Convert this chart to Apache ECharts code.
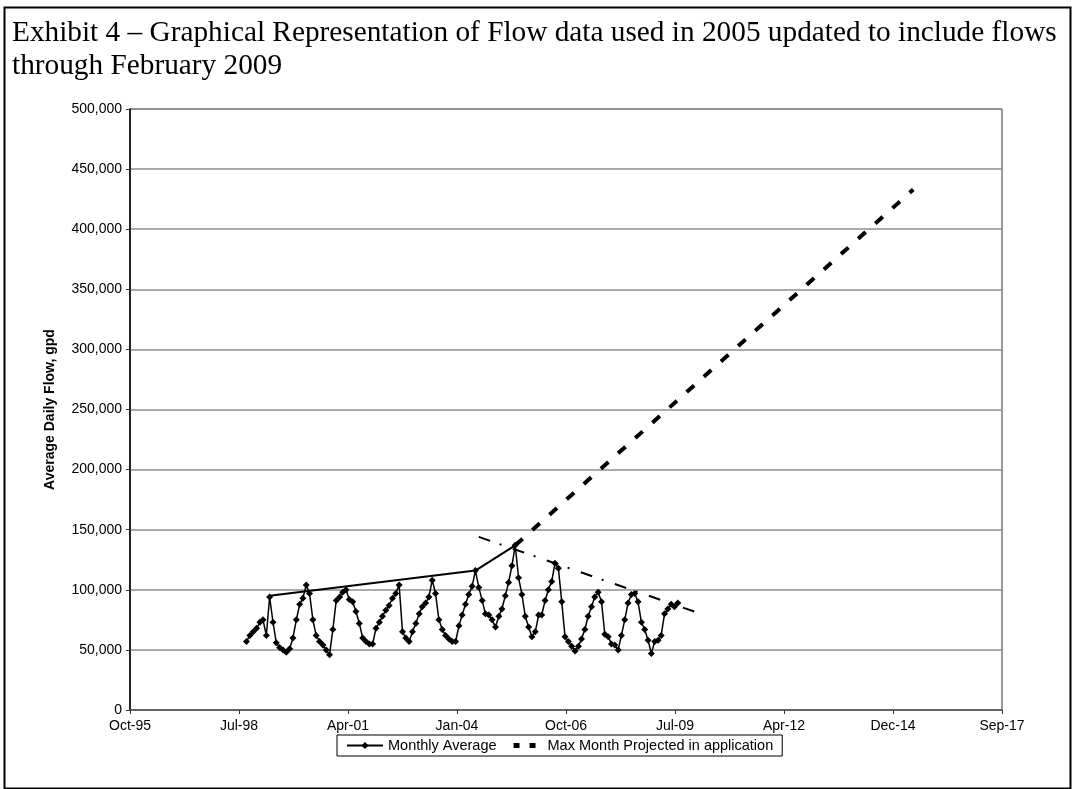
<!DOCTYPE html>
<html>
<head>
<meta charset="utf-8">
<script src="https://cdn.jsdelivr.net/npm/echarts@6/dist/echarts.min.js"></script>
<style>
html,body{margin:0;padding:0;background:#fff;}
#chart{width:1072px;height:789px;}
</style>
</head>
<body>
<div id="chart"></div>
<script>
// ---- data (values in thousands of gpd) ----
const titleText = 'Exhibit 4 \u2013 Graphical Representation of Flow data used in 2005 updated to include flows\nthrough February 2009';
const yAxisName = 'Average Daily Flow, gpd';
const seriesNames = ['Monthly Average', 'Max Month Projected in application'];

const monthlyStart = '1998-10';
const monthlyAverage = [
  57, 62, 65,                                         // 1998 Oct-Dec
  68, 73, 75, 62, 94, 73, 56, 52, 50, 48, 51, 60,     // 1999
  75, 88, 93, 104, 97, 75, 62, 57, 54, 50, 46, 67,    // 2000
  91, 94, 98, 100, 92, 90, 82, 72, 60, 57, 55, 55,    // 2001
  68, 73, 78, 83, 87, 93, 97, 104, 65, 60, 57, 65,    // 2002
  72, 80, 86, 89, 94, 108, 97, 75, 67, 62, 59, 57,    // 2003
  57, 70, 79, 88, 96, 103, 116, 102, 91, 80, 79, 75,  // 2004
  69, 78, 84, 95, 106, 120, 137, 110, 96, 78, 69, 61, // 2005
  65, 79, 79, 91, 100, 107, 122, 118, 90, 61, 57, 53, // 2006
  49, 53, 59, 67, 78, 86, 94, 98, 90, 63, 61, 55,     // 2007
  54, 50, 62, 75, 89, 96, 97, 90, 73, 67, 58, 47,     // 2008
  57, 58, 62, 80, 84, 88, 86, 89                      // 2009 Jan-Aug
];

// upper solid envelope joining peaks
const envelopeDates = ['1999-05', '2004-07', '2005-07'];
const envelopeValues = [95, 116, 137];

// projected max month (dashed)
const projectedDates = ['2005-07', '2015-07'];
const projectedValues = [137, 433];

// dash-dot trend line
const trendDates = ['2004-08', '2010-03'];
const trendValues = [144, 80];

const yTicks = {min: 0, max: 500000, interval: 50000};
const xTicks = {min: 35000, max: 43000, interval: 1000}; // Excel day serials

// ---- helpers ----
const EPOCH = Date.UTC(1899, 11, 30);
function serialOf(ym) {
  const [y, m] = ym.split('-').map(Number);
  return (Date.UTC(y, m - 1, 1) - EPOCH) / 86400000;
}
function addMonths(ym, k) {
  let [y, m] = ym.split('-').map(Number);
  let t = (m - 1) + k;
  y += Math.floor(t / 12); m = (t % 12) + 1;
  return y + '-' + String(m).padStart(2, '0');
}
const MON = ['Jan','Feb','Mar','Apr','May','Jun','Jul','Aug','Sep','Oct','Nov','Dec'];
function fmtSerial(v) {
  const d = new Date(EPOCH + v * 86400000);
  return MON[d.getUTCMonth()] + '-' + String(d.getUTCFullYear() % 100).padStart(2, '0');
}
function pairs(dates, vals) { return dates.map((d, i) => [serialOf(d), vals[i] * 1000]); }

const monthlyData = monthlyAverage.map((v, i) => [serialOf(addMonths(monthlyStart, i)), v * 1000]);

const squaresIcon = 'image://data:image/svg+xml;utf8,' + encodeURIComponent(
  '<svg xmlns="http://www.w3.org/2000/svg" width="36" height="9" viewBox="0 0 36 9">' +
  '<rect x="7" y="2" width="6" height="5" fill="#000"/><rect x="23" y="2" width="6" height="5" fill="#000"/></svg>');

const chart = echarts.init(document.getElementById('chart'), null, {renderer: 'canvas'});
const sans = 'Liberation Sans, Arial, sans-serif';
chart.setOption({
  backgroundColor: '#fff',
  animation: false,
  title: {
    text: titleText,
    left: 7, top: 12,
    textStyle: {fontFamily: 'Liberation Serif, Times New Roman, serif', fontSize: 29.3, fontWeight: 'normal', color: '#000', lineHeight: 33}
  },
  graphic: [{
    type: 'rect', left: 2, top: 5, silent: true,
    shape: {width: 1066, height: 781},
    style: {fill: 'none', stroke: '#000', lineWidth: 2}
  }],
  legend: {
    data: [
      {name: seriesNames[0]},
      {name: seriesNames[1], icon: squaresIcon}
    ],
    bottom: 33, left: 337,
    orient: 'horizontal',
    borderColor: '#000', borderWidth: 1, padding: [3, 9],
    itemWidth: 36, itemHeight: 9, itemGap: 10,
    textStyle: {fontFamily: sans, fontSize: 14.5, color: '#000'}
  },
  grid: {left: 130, right: 70, top: 109, bottom: 79, show: true, borderColor: '#333', borderWidth: 1, backgroundColor: '#fff'},
  xAxis: {
    type: 'value', min: xTicks.min, max: xTicks.max, interval: xTicks.interval,
    axisLine: {show: true, lineStyle: {color: '#555', width: 1.5}},
    axisTick: {show: true, length: 4, lineStyle: {color: '#333'}},
    axisLabel: {formatter: fmtSerial, fontFamily: sans, fontSize: 14, color: '#000', margin: 9},
    splitLine: {show: false}
  },
  yAxis: {
    type: 'value', min: yTicks.min, max: yTicks.max, interval: yTicks.interval,
    name: yAxisName, nameLocation: 'middle', nameGap: 73,
    nameTextStyle: {fontFamily: sans, fontSize: 14, fontWeight: 'bold', color: '#000'},
    axisLine: {show: true, lineStyle: {color: '#000', width: 1.5}},
    axisTick: {show: true, length: 4, lineStyle: {color: '#333'}},
    axisLabel: {formatter: v => v.toLocaleString('en-US'), fontFamily: sans, fontSize: 14, color: '#000', margin: 8},
    splitLine: {show: true, lineStyle: {color: '#8f8f8f', width: 1.5}}
  },
  series: [
    {
      name: seriesNames[0], type: 'line', data: monthlyData,
      symbol: 'diamond', symbolSize: 7,
      lineStyle: {color: '#000', width: 1.5},
      itemStyle: {color: '#000'}, z: 5
    },
    {
      name: seriesNames[1], type: 'line', data: pairs(projectedDates, projectedValues),
      symbol: 'none',
      lineStyle: {color: '#000', width: 4, type: [10, 13]},
      itemStyle: {color: '#000'}
    },
    {
      name: 'envelope', type: 'line', data: pairs(envelopeDates, envelopeValues),
      symbol: 'none', lineStyle: {color: '#000', width: 2}
    },
    {
      name: 'trend', type: 'line', data: pairs(trendDates, trendValues),
      symbol: 'none', lineStyle: {color: '#000', width: 2, type: [12, 10, 2, 12]}
    }
  ]
});
</script>
</body>
</html>
